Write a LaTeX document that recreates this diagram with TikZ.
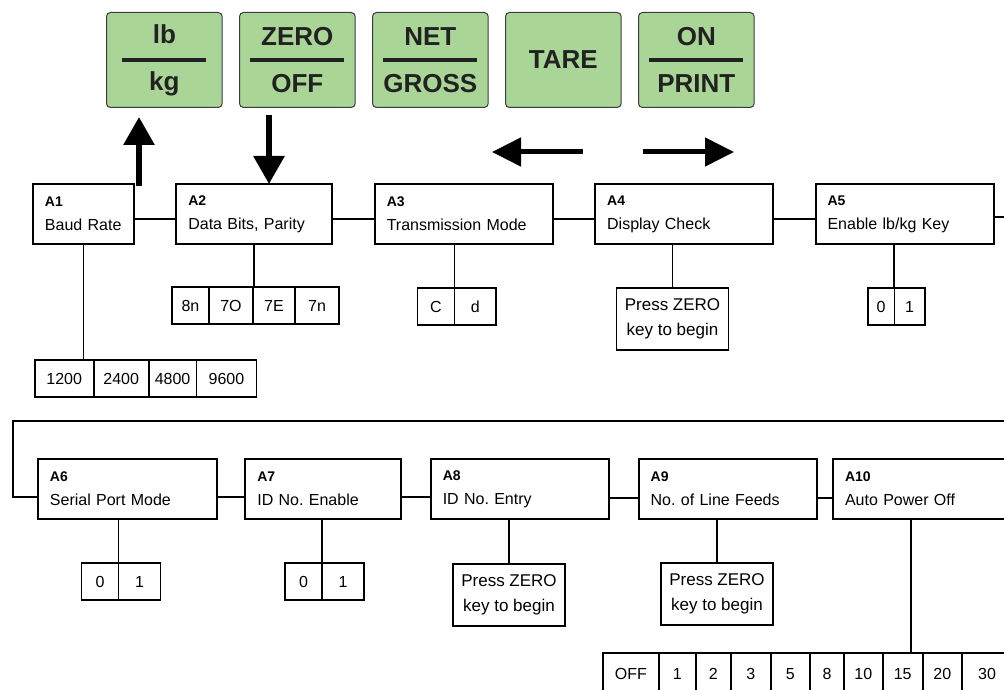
\documentclass[tikz,border=0pt]{standalone}
\usepackage{fontspec}
\setmainfont{Liberation Sans}
\usepackage{tikz}
\usetikzlibrary{positioning,arrows.meta}

\definecolor{keygreen}{RGB}{169,213,151}
\definecolor{keyedge}{RGB}{60,60,60}
\definecolor{keyink}{RGB}{34,34,34}

\newcommand{\menutag}[1]{{\fontsize{14}{14}\selectfont\bfseries #1}}
\frenchspacing

\begin{document}
\begin{tikzpicture}
    [ x = 1pt, y = -1pt
    , font = \fontsize{16}{19}\selectfont
    , key/.style =
      { draw=keyedge, fill=keygreen, line width=1pt, rounded corners=4pt
      , minimum width=115.7pt, minimum height=95pt, align=center
      , text=keyink, font=\fontsize{26}{47}\selectfont\bfseries }
    , keybar/.style =
      { draw=keyink, line width=3.5pt }
    , bigarrow/.style =
      { line width=6pt, -{Triangle[length=28pt,width=30pt]} }
    , sidearrow/.style =
      { line width=5pt, -{Triangle[length=29pt,width=28pt]} }
    , menu/.style =
      { draw, line width=1.9pt, minimum height=60pt, text width=#1
      , inner xsep=12pt, align=left, font=\fontsize{16}{24}\selectfont }
    , opt/.style =
      { draw, line width=1.6pt, minimum width=#1, minimum height=37pt
      , inner sep=0pt, outer sep=0pt }
    , press/.style =
      { draw, line width=1.9pt, minimum width=112pt, minimum height=62pt
      , align=center, font=\fontsize{17}{25}\selectfont }
    , link/.style =
      { line width=1.8pt }
    ]
    \useasboundingbox (0,0) rectangle (1004,690);

    % keys
    \node [key, anchor=north west] (lbkg) at (106,12) {lb\\kg};
    \node [key] (zero) [right=16.3pt of lbkg] {ZERO\\OFF};
    \node [key] (net) [right=16.3pt of zero] {NET\\GROSS};
    \node [key] (tare) [right=16.3pt of net] {TARE};
    \node [key] (on) [right=16.3pt of tare] {ON\\PRINT};
    \draw [keybar] ([xshift=-42pt]lbkg.center) -- ([xshift=42pt]lbkg.center);
    \draw [keybar] ([xshift=-47pt]zero.center) -- ([xshift=47pt]zero.center);
    \draw [keybar] ([xshift=-47pt]net.center) -- ([xshift=47pt]net.center);
    \draw [keybar] ([xshift=-47pt]on.center) -- ([xshift=47pt]on.center);

    % arrows
    \coordinate (upfoot) at (139,186);
    \coordinate (uptip) at (139,117);
    \coordinate (downtop) at (269,115);
    \coordinate (downtip) at (269,184);
    \coordinate (leftfoot) at (583,152);
    \coordinate (lefttip) at (492,152);
    \coordinate (rightfoot) at (643,152);
    \coordinate (righttip) at (734,152);
    \draw [bigarrow] (upfoot) -- (uptip);
    \draw [bigarrow] (downtop) -- (downtip);
    \draw [sidearrow] (leftfoot) -- (lefttip);
    \draw [sidearrow] (rightfoot) -- (righttip);

    % first row
    \node [menu=77pt, anchor=north west] (a1) at (32,183) {\menutag{A1}\\Baud Rate};
    \node [menu=132pt] (a2) [right=40.5pt of a1] {\menutag{A2}\\Data Bits, Parity};
    \node [menu=154pt] (a3) [right=40.5pt of a2] {\menutag{A3}\\Transmission Mode};
    \node [menu=154pt] (a4) [right=40.5pt of a3] {\menutag{A4}\\Display Check};
    \node [menu=154pt] (a5) [right=40.5pt of a4] {\menutag{A5}\\Enable lb/kg Key};

    \draw [link] ([yshift=-5pt]a1.east) -- ([yshift=-5pt]a2.west);
    \draw [link] ([yshift=-5pt]a2.east) -- ([yshift=-5pt]a3.west);
    \draw [link] ([yshift=-5pt]a3.east) -- ([yshift=-5pt]a4.west);
    \draw [link] ([yshift=-5pt]a4.east) -- ([yshift=-5pt]a5.west);

    \node [opt=59pt, anchor=north west] (a1o1) at (34.7,360) {1200};
    \node [opt=55pt] (a1o2) [right=0pt of a1o1] {2400};
    \node [opt=47.7pt] (a1o3) [right=0pt of a1o2] {4800};
    \node [opt=60pt] (a1o4) [right=0pt of a1o3] {9600};
    \draw [link] (a1.south) -- (a1.south |- a1o1.north);

    \node [opt=37pt, anchor=north west] (a2o1) at (172,287) {8n};
    \node [opt=44pt] (a2o2) [right=0pt of a2o1] {7O};
    \node [opt=42pt] (a2o3) [right=0pt of a2o2] {7E};
    \node [opt=44pt] (a2o4) [right=0pt of a2o3] {7n};
    \draw [link] (a2.south) -- (a2.south |- a2o3.north);

    \node [opt=37pt, anchor=north west] (a3o1) at (417.5,288) {C};
    \node [opt=41.5pt] (a3o2) [right=0pt of a3o1] {d};
    \draw [link] (a3o2.north west |- a3.south) -- (a3o2.north west);

    \node [press, anchor=north] (a4p) at (672.5,287) {Press ZERO\\key to begin};
    \draw [link] (a4p.north |- a4.south) -- (a4p.north);

    \node [opt=26.3pt, anchor=north west] (a5o1) at (868,288) {0};
    \node [opt=30.7pt] (a5o2) [right=0pt of a5o1] {1};
    \draw [link] (a5o2.north west |- a5.south) -- (a5o2.north west);

    % wrap to second row
    \coordinate (wrapR) at (1016,421);
    \coordinate (wrapL) at (12.7,421);

    % second row
    \node [menu=155pt, anchor=north west] (a6) at (37,458) {\menutag{A6}\\Serial Port Mode};
    \node [menu=132pt] (a7) [right=26.5pt of a6] {\menutag{A7}\\ID No. Enable};
    \node [menu=154pt] (a8) [right=27.5pt of a7] {\menutag{A8}\\ID No. Entry};
    \node [menu=154.5pt] (a9) [right=28pt of a8] {\menutag{A9}\\No. of Line Feeds};
    \node [menu=176pt] (a10) [right=14pt of a9] {\menutag{A10}\\Auto Power Off};

    \draw [link] ([yshift=-3pt]a5.east) -| (wrapR) -- (wrapL) |- ([yshift=-8pt]a6.west);
    \draw [link] ([yshift=-8pt]a6.east) -- ([yshift=-8pt]a7.west);
    \draw [link] ([yshift=-8pt]a7.east) -- ([yshift=-8pt]a8.west);
    \draw [link] ([yshift=-9pt]a8.east) -- ([yshift=-9pt]a9.west);
    \draw [link] ([yshift=-9pt]a9.east) -- ([yshift=-9pt]a10.west);

    \node [opt=37pt, anchor=north west] (a6o1) at (81.5,563) {0};
    \node [opt=42pt] (a6o2) [right=0pt of a6o1] {1};
    \draw [link] (a6o2.north west |- a6.south) -- (a6o2.north west);

    \node [opt=37pt, anchor=north west] (a7o1) at (285,563) {0};
    \node [opt=42pt] (a7o2) [right=0pt of a7o1] {1};
    \draw [link] (a7o2.north west |- a7.south) -- (a7o2.north west);

    \node [press, anchor=north] (a8p) at (509,563) {Press ZERO\\key to begin};
    \draw [link] (a8p.north |- a8.south) -- (a8p.north);

    \node [press, anchor=north] (a9p) at (717,562) {Press ZERO\\key to begin};
    \draw [link] (a9p.north |- a9.south) -- (a9p.north);

    \node [opt=56.3pt, minimum height=42pt, anchor=north west] (a10o1) at (602.7,653) {OFF};
    \node [opt=36.7pt, minimum height=42pt] (a10o2) [right=0pt of a10o1] {1};
    \node [opt=35.3pt, minimum height=42pt] (a10o3) [right=0pt of a10o2] {2};
    \node [opt=39.7pt, minimum height=42pt] (a10o4) [right=0pt of a10o3] {3};
    \node [opt=39.3pt, minimum height=42pt] (a10o5) [right=0pt of a10o4] {5};
    \node [opt=34pt, minimum height=42pt] (a10o6) [right=0pt of a10o5] {8};
    \node [opt=38.7pt, minimum height=42pt] (a10o7) [right=0pt of a10o6] {10};
    \node [opt=40pt, minimum height=42pt] (a10o8) [right=0pt of a10o7] {15};
    \node [opt=39.3pt, minimum height=42pt] (a10o9) [right=0pt of a10o8] {20};
    \node [opt=50pt, minimum height=42pt] (a10o10) [right=0pt of a10o9] {30};
    \draw [link] ([xshift=78.5pt]a10.south west) -- ([xshift=78.5pt]a10.south west |- a10o1.north);
  \end{tikzpicture}
\end{document}
